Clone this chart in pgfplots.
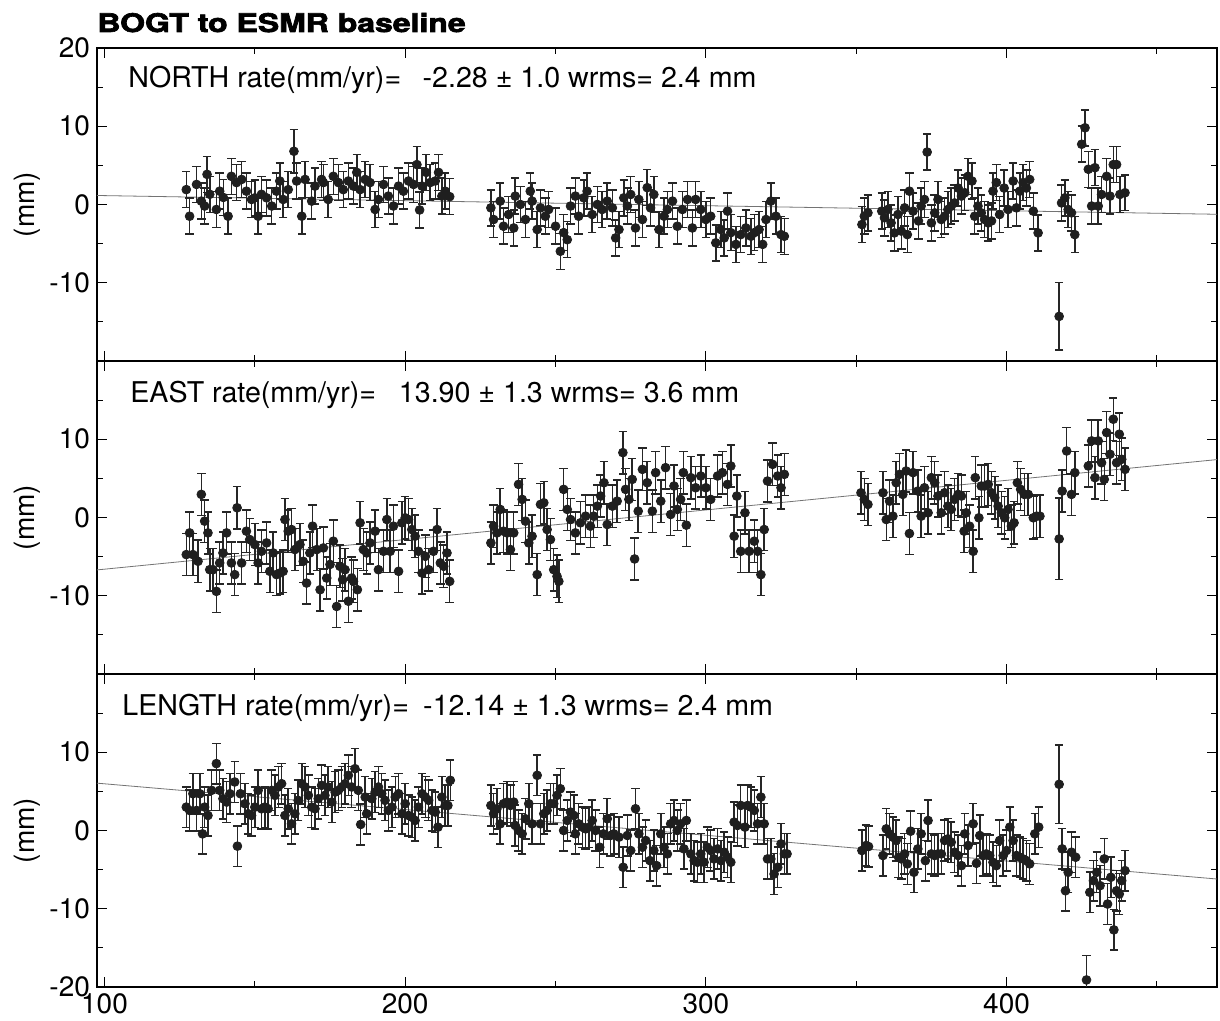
\documentclass[border=0pt]{standalone}
\usepackage{fontspec}
\setmainfont{TeX Gyre Heros}
\newfontfamily\titlefont[FakeBold=2.5]{TeX Gyre Heros Bold}
\usepackage{graphicx}
\usepackage{pgfplots}
\pgfplotsset{compat=1.18}

\pgfplotsset{
  panel/.style={
    width=560pt, height=156.5pt, scale only axis,
    xmin=97.5, xmax=470, ymin=-20, ymax=20,
    xtick={100,200,300,400}, minor xtick={150,250,350,450},
    minor ytick={-15,-5,5,15},
    tick align=inside, major tick length=5pt, minor tick length=3pt,
    axis line style={line width=1pt}, every tick/.style={black, line width=0.6pt},
    tick label style={font=\fontsize{14}{16}\selectfont},
    /pgf/number format/assume math mode=true,
    ylabel={(mm)}, ylabel style={font=\fontsize{14}{16}\selectfont, at={(axis description cs:-0.0625,0.5)}, anchor=center},
    clip=true,
  },
  pts/.style={only marks, mark=*, mark size=2.2pt, color=black!88,
    error bars/.cd, y dir=both, y fixed=#1, error mark=|,
    error bar style={line width=0.75pt, black!85},
    error mark options={mark size=2.1pt, line width=0.75pt, black!85}},
  ptsx/.style={only marks, mark=*, mark size=2.2pt, color=black!88,
    error bars/.cd, y dir=both, y explicit, error mark=|,
    error bar style={line width=0.75pt, black!85},
    error mark options={mark size=2.1pt, line width=0.75pt, black!85}},
  trend/.style={no marks, color=black!55, line width=0.4pt},
}
\tikzset{lbl/.style={anchor=base west, font=\fontsize{14.3}{16}\selectfont, inner sep=0pt}}

\begin{document}
\begin{tikzpicture}

% ---------------- NORTH ----------------
\begin{axis}[panel, name=top, at={(0,313pt)}, ytick={-10,0,10,20}, xticklabels={}]
\addplot[trend] coordinates {(97.5,1.15) (470,-1.25)};
\addplot[pts=2.3] table {
x y
127.2 1.9
128.3 -1.5
130.6 2.56
132.2 0.43
133.3 -0.2
134.1 3.85
135.0 1.3
137.2 -0.64
138.3 1.7
139.5 0.9
141.1 -1.5
142.2 3.6
143.9 2.8
145.6 3.2
147.2 1.7
148.9 0.64
150.0 0.85
151.1 -1.5
152.2 1.3
153.9 0.85
155.6 -0.2
157.2 1.7
158.3 3.0
159.4 0.64
161.1 1.9
163.9 3.0
165.6 -1.5
166.7 3.2
168.9 0.43
170.0 2.35
172.2 3.2
172.8 2.8
174.4 0.64
176.1 3.6
177.8 2.8
179.4 1.9
181.1 3.0
182.8 2.35
183.9 4.1
185.0 1.9
186.7 3.2
188.3 2.8
190.0 -0.64
191.1 0.64
192.8 2.56
194.4 1.07
196.1 -0.2
197.8 2.35
199.4 1.7
201.1 3.0
202.8 2.56
203.9 5.1
204.8 -0.7
205.6 2.35
207.0 4.1
208.3 2.8
210.0 3.0
211.1 4.1
212.2 1.07
213.3 1.7
214.8 1.0
228.5 -0.43
229.4 -1.92
231.6 0.43
232.7 -2.78
234.4 -1.28
236.1 -3.0
236.6 1.07
238.3 0.0
240.0 -1.92
241.6 1.7
242.2 0.43
243.9 -3.2
245.0 -0.43
246.6 -1.5
247.7 -0.64
250.0 -2.78
251.6 -5.98
252.7 -3.6
253.9 -4.5
255.0 -0.2
256.6 1.07
257.7 -1.5
259.4 0.85
260.5 1.7
262.2 -1.28
263.9 0.0
265.5 -0.64
267.2 0.43
268.9 -0.43
270.0 -4.27
271.1 -3.2
272.7 0.85
273.9 -0.2
275.0 1.28
276.6 -3.0
277.7 0.64
278.9 -1.92
280.5 2.15
281.6 -0.43
282.7 1.28
284.4 -3.2
286.1 -1.5
287.2 -0.64
288.9 0.43
290.5 -2.78
292.2 -0.64
293.9 0.64
295.5 -3.0
296.6 0.64
298.3 -0.64
300.0 -1.92
301.6 -1.5
303.3 -4.9
305.0 -3.2
306.1 -4.27
307.2 -0.85
308.3 -3.6
310.0 -5.1
311.6 -3.85
313.3 -3.0
315.0 -4.06
316.1 -3.6
317.7 -3.2
318.9 -5.1
320.0 -1.92
321.6 0.43
323.3 -1.5
325.0 -3.85
326.1 -4.06
351.9 -2.56
352.7 -1.5
353.9 -1.07
358.5 -0.85
359.4 -1.7
360.5 -0.64
361.6 -2.35
362.7 -3.63
363.9 -1.28
365.0 -3.4
366.1 -0.43
367.0 -3.85
367.7 1.7
368.9 -0.85
370.7 -2.1
371.6 -0.2
372.7 0.64
373.6 6.7
375.0 -2.35
376.1 -1.07
377.2 0.64
378.3 -1.92
379.4 -1.5
380.5 -0.64
381.6 -0.2
382.7 0.2
383.9 2.1
385.0 1.07
386.1 1.5
387.2 3.6
388.5 3.0
389.4 -1.5
390.5 -0.2
391.6 -1.07
392.7 -1.92
393.9 -2.35
395.0 -2.1
395.5 1.7
396.6 2.8
397.7 -1.28
399.2 2.1
400.5 -0.64
402.2 3.0
403.3 -0.43
404.4 1.7
405.5 2.8
406.6 2.1
407.7 3.2
408.9 -0.85
410.5 -3.63
418.3 0.2
419.4 0.85
420.5 -0.64
421.6 -1.07
422.7 -3.85
425.0 7.7
426.1 9.8
427.2 4.5
428.3 -0.2
429.4 4.7
430.5 -0.2
431.6 1.28
433.3 3.6
434.4 1.07
435.5 5.1
436.6 5.1
437.7 1.28
439.4 1.5
};
\addplot[ptsx] table[y error=e] {
x y e
163.0 6.8 2.8
417.5 -14.3 4.3
};
\node[lbl] at ([xshift=15.5pt, yshift=-20pt]rel axis cs:0,1)
  {NORTH rate(mm/yr)=\hspace{0.75em}-2.28 ± 1.0 wrms= 2.4 mm};
\end{axis}

% ---------------- EAST ----------------
\begin{axis}[panel, name=mid, at={(0,156.5pt)}, ytick={-10,0,10}, xticklabels={}]
\addplot[trend] coordinates {(97.5,-6.7) (470,7.4)};
\addplot[pts=2.7] table {
x y
127.2 -4.74
128.3 -1.97
129.4 -4.74
131.1 -5.6
132.2 2.95
133.3 -0.47
134.4 -1.97
135.0 -6.67
136.1 -6.67
137.2 -9.44
138.3 -5.81
139.4 -4.53
140.6 -1.97
142.2 -5.81
143.3 -7.3
144.1 1.24
145.6 -5.81
147.2 -1.75
148.3 -2.82
150.0 -3.46
151.1 -5.81
152.2 -4.32
153.9 -3.25
155.0 -6.88
156.1 -4.53
157.2 -7.3
158.3 -7.1
159.4 -6.88
160.0 -0.26
161.1 -1.75
162.2 -1.54
163.3 -4.1
165.0 -3.46
166.1 -5.6
167.2 -8.38
168.3 -4.53
169.2 -1.11
170.6 -4.1
171.7 -9.23
172.8 -3.89
173.9 -7.74
175.0 -6.0
176.1 -3.03
177.2 -11.37
178.3 -6.24
179.2 -7.95
180.0 -6.67
181.1 -10.7
182.2 -7.74
182.8 -8.16
184.1 -9.23
185.0 -0.68
186.1 -4.1
187.2 -4.53
188.3 -3.25
190.0 -1.75
191.1 -6.67
192.8 -4.32
193.9 -0.26
195.0 -4.32
196.1 -1.11
197.8 -6.88
198.9 -0.68
200.0 -0.04
201.1 -0.26
202.2 -1.54
203.3 -2.39
204.4 -4.32
205.6 -7.1
206.7 -4.96
207.8 -6.67
209.4 -4.32
210.6 -1.54
211.7 -5.81
212.8 -6.24
213.9 -4.53
214.8 -8.16
228.5 -3.25
229.4 -1.11
230.5 -1.97
231.6 1.03
232.7 -1.75
233.9 -1.97
235.0 -4.1
236.1 -1.97
237.7 4.23
238.9 2.31
240.0 -0.47
241.1 -3.25
242.2 -2.39
243.9 -7.3
245.0 1.67
246.1 1.88
247.2 -1.54
248.3 -2.82
249.4 -6.67
250.5 -7.52
251.1 -8.16
252.7 3.59
253.9 1.03
255.0 -0.26
256.6 -1.97
258.3 -0.68
260.0 0.17
261.6 -1.11
262.7 0.17
263.9 1.45
265.0 2.74
266.1 4.44
267.2 -0.9
268.9 1.45
270.5 2.09
272.4 8.29
273.3 3.59
274.4 2.31
275.5 4.87
276.3 -5.3
277.5 0.81
278.9 6.15
280.5 4.44
282.2 0.81
283.3 5.73
285.0 2.09
286.6 6.37
288.3 0.38
289.4 4.02
290.5 1.03
291.6 2.31
292.5 5.73
293.5 -0.98
295.0 5.09
296.6 3.8
298.3 5.3
300.0 3.8
301.6 2.31
303.9 5.3
305.5 5.73
307.2 4.23
308.3 6.58
309.4 -2.39
310.3 2.74
311.6 -4.32
313.0 0.6
314.4 -4.32
316.1 -3.03
317.2 -4.32
318.3 -7.3
319.4 -1.54
320.5 4.66
322.2 6.79
323.9 5.3
325.0 3.8
326.1 5.51
351.6 3.16
352.7 2.31
353.9 1.67
358.9 3.16
360.0 -0.26
361.1 2.09
362.2 0.17
363.3 4.44
364.4 5.51
365.5 2.95
366.6 5.94
367.7 -2.05
368.9 5.73
370.5 3.38
371.6 0.17
372.7 3.8
373.9 0.6
375.0 5.09
376.1 4.44
377.2 2.74
378.3 0.6
379.4 3.16
380.5 1.45
381.6 1.03
382.7 2.31
383.9 2.95
385.0 2.74
385.9 -1.75
386.6 0.6
387.7 -1.11
388.9 -4.32
389.6 5.09
390.8 -0.04
391.6 4.02
392.7 4.02
393.9 4.23
395.0 3.16
396.1 2.52
397.2 1.45
398.3 0.6
399.4 -0.04
400.5 1.03
401.6 -1.11
402.5 -0.68
403.6 4.44
404.7 3.59
405.9 2.95
407.2 2.95
408.9 -0.04
410.0 0.17
411.1 0.17
418.5 3.38
421.6 2.95
422.7 5.73
427.2 6.58
428.3 9.79
429.4 5.09
430.5 9.79
431.6 7.0
432.5 4.87
433.3 10.85
434.4 8.08
435.5 12.56
436.6 7.0
437.5 10.64
438.3 7.44
439.4 6.15
};
\addplot[ptsx] table[y error=e] {
x y e
417.5 -2.74 5.2
420.0 8.5 3.0
};
\node[lbl] at ([xshift=16.5pt, yshift=-21pt]rel axis cs:0,1)
  {EAST rate(mm/yr)=\hspace{0.8em}13.90 ± 1.3 wrms= 3.6 mm};
\end{axis}

% ---------------- LENGTH ----------------
\begin{axis}[panel, name=bot, at={(0,0)}, ytick={-20,-10,0,10}]
\addplot[trend] coordinates {(97.5,6.05) (470,-6.2)};
\addplot[pts=2.6] table {
x y
127.2 2.99
128.3 2.56
129.4 4.7
130.6 2.56
131.7 4.7
132.6 -0.43
133.3 2.99
134.4 1.92
135.6 5.13
137.2 8.55
138.3 5.13
139.4 4.06
140.6 3.63
141.7 4.7
143.3 6.2
144.2 -2.0
145.2 4.7
146.7 3.42
147.8 2.14
148.9 1.92
150.0 2.99
151.1 5.13
152.2 2.78
153.3 2.99
154.4 2.78
155.6 5.13
156.7 4.49
157.8 5.56
158.9 5.98
160.0 1.92
161.1 2.78
162.2 0.85
163.3 2.14
164.4 3.85
165.6 5.98
166.7 5.56
167.8 4.49
168.9 2.99
170.0 2.78
171.1 4.06
172.2 5.77
173.3 4.49
174.4 5.56
175.6 3.63
176.7 4.91
177.8 5.13
178.9 5.56
180.0 5.98
181.1 7.05
182.2 5.56
183.3 7.9
184.4 5.13
185.2 0.77
186.7 4.27
187.2 2.14
188.9 4.06
190.0 4.91
191.1 5.56
192.2 4.7
193.3 3.85
194.4 2.56
195.6 2.99
196.7 4.27
197.8 4.7
198.9 2.14
200.0 3.42
201.1 1.92
202.2 1.71
203.3 1.28
204.4 2.99
205.6 4.7
206.7 4.27
207.8 3.85
208.9 2.56
210.0 2.35
210.9 0.43
212.2 4.27
213.3 3.2
214.2 3.2
215.0 6.41
228.5 3.2
229.4 2.14
230.5 2.78
231.6 0.85
232.7 3.42
233.9 3.63
235.0 3.2
236.1 3.63
236.6 0.64
237.7 0.0
238.9 -0.43
240.0 1.5
241.1 3.42
242.2 0.85
243.9 7.05
245.0 0.85
246.1 2.14
247.2 2.56
248.3 3.42
249.4 3.42
250.5 4.49
251.6 5.34
252.7 0.0
253.9 1.28
255.0 2.35
256.1 1.92
256.6 -0.43
257.7 0.85
258.9 0.43
260.0 0.21
261.1 0.43
262.2 1.28
263.3 0.0
264.7 -2.14
265.9 -0.43
267.2 1.5
268.3 -0.64
269.4 -0.43
271.1 -0.85
272.5 -4.7
273.9 -0.64
275.0 -2.56
276.6 2.78
277.7 -0.43
278.9 -2.14
280.0 -1.28
281.4 -3.85
282.7 -2.56
283.6 -4.49
285.0 -0.43
286.1 -2.14
287.2 -2.99
288.3 0.85
289.4 1.28
290.5 0.0
291.6 0.85
292.7 -2.35
293.5 1.28
295.0 -2.99
296.1 -3.85
297.2 -4.06
298.3 -2.99
299.4 -4.06
300.5 -2.14
301.6 -2.56
302.7 -3.63
303.9 -2.35
305.0 -3.85
306.1 -2.78
307.2 -3.42
308.3 -4.06
309.4 1.07
310.5 0.64
311.6 3.2
313.0 0.43
313.9 3.2
315.0 2.99
316.1 2.56
317.2 0.85
318.3 4.27
319.4 0.85
320.5 -3.63
321.6 -3.63
322.7 -5.56
323.9 -4.7
325.0 -1.71
326.1 -2.99
327.0 -2.99
351.9 -2.56
353.3 -1.92
354.1 -2.05
358.9 -3.2
360.0 0.21
361.1 -0.43
362.2 -0.85
363.3 -1.28
364.1 -3.42
365.0 -3.63
366.1 -2.99
367.0 -4.27
368.1 -0.09
369.2 -5.34
370.5 -2.35
371.6 -0.43
373.0 -3.85
373.9 1.28
375.0 -2.99
376.1 -3.2
377.2 -2.99
378.3 -2.99
379.4 -1.28
380.5 -1.07
381.6 -1.5
382.7 -2.78
383.9 -3.2
385.0 -4.49
386.1 -0.43
387.2 -1.92
388.9 0.85
390.0 -4.19
391.1 -0.64
392.2 -3.2
393.3 -2.99
394.4 -3.2
395.5 -4.06
396.6 -4.49
397.7 -1.28
398.9 -3.2
400.0 -2.56
401.1 0.43
402.2 -1.28
403.3 -3.2
404.4 -3.42
405.5 -3.63
406.6 -3.85
407.7 -4.27
409.4 -0.43
410.7 0.43
418.5 -2.35
419.6 -7.7
420.5 -5.34
421.6 -2.78
423.0 -3.42
427.7 -7.9
428.9 -6.41
430.0 -5.34
431.1 -7.05
432.5 -3.63
433.6 -9.4
434.7 -5.98
435.7 -12.7
436.6 -7.7
437.5 -8.12
438.3 -6.41
439.4 -5.13
};
\addplot[ptsx] table[y error=e] {
x y e
417.5 5.9 5.0
426.6 -19.1 3.1
};
\node[lbl] at ([xshift=12.5pt, yshift=-20.5pt]rel axis cs:0,1)
  {LENGTH rate(mm/yr)=\hspace{0.5em}-12.14 ± 1.3 wrms= 2.4 mm};
\end{axis}

% title
\node[anchor=base west, inner sep=0pt] at ([yshift=8pt]top.north west)
  {\scalebox{1.31}[1.05]{\titlefont\fontsize{12.2}{14}\selectfont BOGT to ESMR baseline}};

% page extent as in the reference
\path ([xshift=-48.5pt, yshift=-17pt]bot.south west) rectangle ([xshift=1.5pt, yshift=24pt]top.north east);
\end{tikzpicture}
\end{document}
